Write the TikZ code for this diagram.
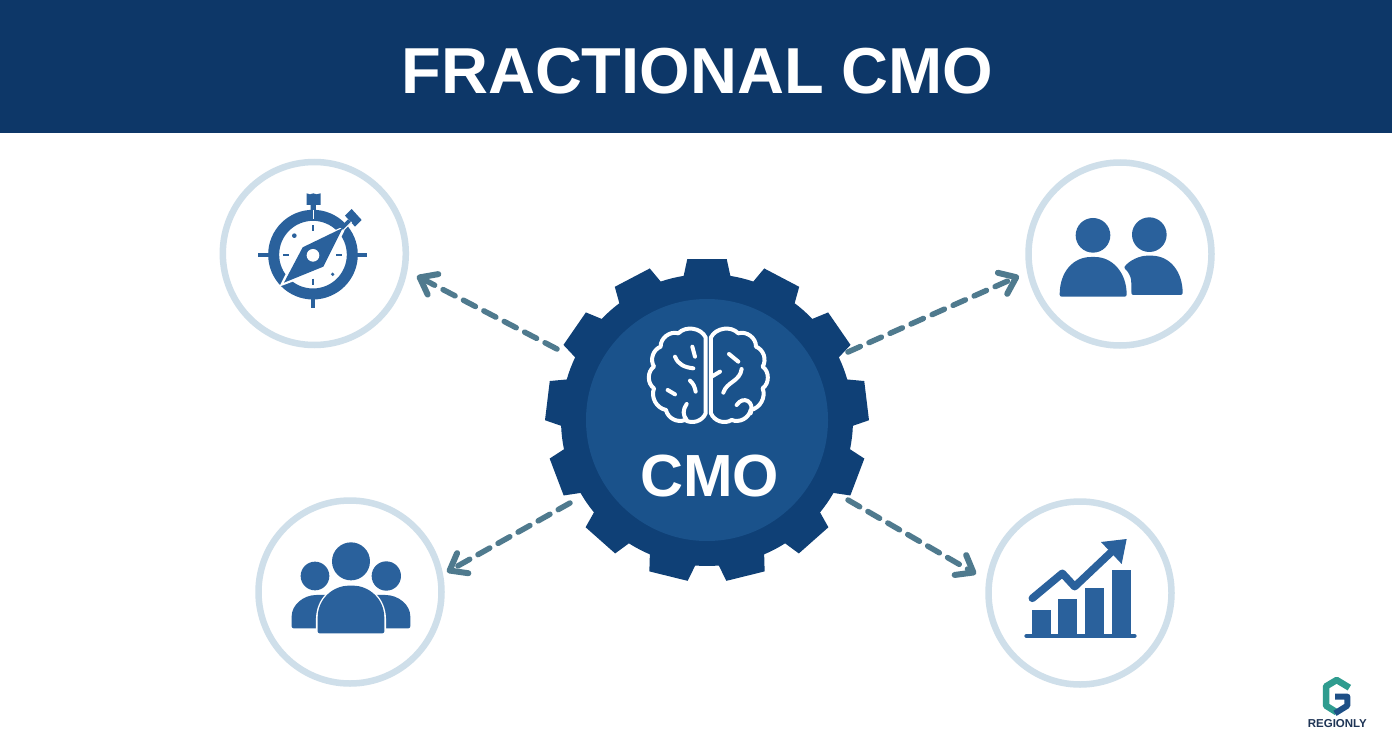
\documentclass[tikz,border=0pt]{standalone}
\usepackage{fontspec}
\setmainfont{Liberation Sans}
\usetikzlibrary{arrows.meta}
\definecolor{headerblue}{HTML}{0D3768}
\definecolor{gearouter}{HTML}{0F4076}
\definecolor{gearinner}{HTML}{1A528B}
\definecolor{iconblue}{HTML}{2A619C}
\definecolor{ringblue}{HTML}{CFDFEA}
\definecolor{arrowgrey}{HTML}{4F7A8E}
\definecolor{logoteal}{HTML}{2F9C8F}
\definecolor{logonavy}{HTML}{1D4F86}
\definecolor{logotext}{HTML}{1F3556}
\tikzset{
  ringnode/.style={circle,draw=ringblue,line width=6.5pt,fill=white,minimum size=183pt,inner sep=0pt},
  titletext/.style={text=white,font=\fontsize{65}{65}\selectfont\bfseries,inner sep=0pt},
  cmotext/.style={text=white,font=\fontsize{59.5}{60}\selectfont\bfseries,inner sep=0pt},
  link/.style={draw=arrowgrey,line width=5.5pt,dash pattern=on 13.5pt off 9.5pt,line cap=round,
    -{Straight Barb[length=15pt,width=23pt,line width=6pt,round,sep=0pt]}},
  brainline/.style={draw=white,line width=4pt,line cap=round,line join=round},
}
\newcommand{\lobe}{%
  \draw[brainline] (527,262) to[bend right=55] (445,250) to[bend right=55] (392,290)
    to[bend right=50] (372,350) to[bend right=55] (372,415) to[bend right=50] (408,480)
    to[bend right=50] (465,510) to[bend right=50] (527,490) -- cycle;}
\begin{document}
\begin{tikzpicture}[x=1pt,y=-1pt]
\useasboundingbox (0,0) rectangle (1392,752);
\fill[white] (0,0) rectangle (1392,752);
\fill[headerblue] (0,0) rectangle (1392,133);
\node[titletext] (title) at (697.5,71) {FRACTIONAL CMO};

% rings
\node[ringnode] (strategy) at (314.3,253.5) {};
\node[ringnode] (partners) at (1120,254) {};
\node[ringnode] (team) at (350,592) {};
\node[ringnode] (growth) at (1080,593) {};

% connectors
\coordinate (gearTL) at (557,349);
\coordinate (gearTR) at (848,352);
\coordinate (gearBL) at (570,503);
\coordinate (gearBR) at (848,500);
\coordinate (tipTL) at (417,276);
\coordinate (tipTR) at (1019,276);
\coordinate (tipBL) at (447,572);
\coordinate (tipBR) at (976,574);
\draw[link] (gearTL) -- (tipTL);
\draw[link] (gearTR) -- (tipTR);
\draw[link] (gearBL) -- (tipBL);
\draw[link] (gearBR) -- (tipBR);

% gear
\begin{scope}[shift={(707,420)}]
\fill[gearouter] (-90-9.2:146)
  \foreach \i in {0,...,12} {
    -- ({-90+\i*360/13-9.2}:146)
    -- ({-90+\i*360/13-7}:162)
    -- ({-90+\i*360/13+7}:162)
    -- ({-90+\i*360/13+9.2}:146)
    arc[start angle={-90+\i*360/13+9.2},end angle={-90+(\i+1)*360/13-9.2},radius=146]
  } -- cycle;
\end{scope}
\node[circle,fill=gearinner,minimum size=242pt,inner sep=0pt] (cmo) at (707,420) {};
\node[cmotext] (cmolabel) at (709.5,476) {CMO};

% brain
\begin{scope}[shift={(530,250)},x=0.3333pt,y=-0.3333pt]
\lobe
\begin{scope}[xshift=1070*0.3333pt,xscale=-1]\lobe\end{scope}
\draw[brainline] (487,290) -- (495,320);
\draw[brainline] (435,320) .. controls (445,345) and (465,352) .. (490,355);
\draw[brainline] (480,392) .. controls (490,400) and (495,412) .. (497,425);
\draw[brainline] (413,420) -- (435,433);
\draw[brainline] (470,462) .. controls (458,480) and (458,495) .. (470,510);
\draw[brainline] (597,312) -- (625,335);
\draw[brainline] (635,357) .. controls (630,395) and (590,395) .. (580,428);
\draw[brainline] (570,365) -- (545,380);
\draw[brainline] (620,465) .. controls (640,435) and (675,455) .. (662,490);
\end{scope}

% compass
\begin{scope}[shift={(210,150)},x=0.3333pt,y=-0.3333pt]
\draw[draw=iconblue,line width=11pt] (309,314) circle[radius=118];
\fill[iconblue] (290,130) -- (300,133) -- (310,130) -- (320,133) -- (332,130) -- (332,165) -- (318,165) -- (318,182) -- (302,182) -- (302,165) -- (290,165) -- cycle;
\draw[white,line width=1.6pt] (310,180) -- (310,206);
\draw[draw=iconblue,line width=4pt] (145,314) -- (182,314);
\draw[draw=iconblue,line width=4pt] (437,314) -- (470,314);
\draw[draw=iconblue,line width=4pt] (309,440) -- (309,474);
\draw[draw=iconblue,line width=2.2pt] (309,226) -- (309,243);
\draw[draw=iconblue,line width=2.2pt] (309,386) -- (309,405);
\draw[draw=iconblue,line width=2.2pt] (220,314) -- (238,314);
\draw[draw=iconblue,line width=2.2pt] (379,314) -- (397,314);
\fill[iconblue] (253,257) circle[radius=7];
\fill[iconblue] (368,373) circle[radius=5.5];
% needle
\fill[white] (208,410) -- (270,288) -- (412,224) -- (347,358) -- cycle;
\fill[iconblue] (222,398) -- (278,292) -- (398,234) -- (340,350) -- cycle;
\fill[iconblue] (309,316) circle[radius=34];
\fill[white] (309,316) circle[radius=19];
% side button
\fill[iconblue] (405,197) -- (425,177) -- (455,210) -- (435,230) -- cycle;
\fill[iconblue] (390,232) -- (414,208) -- (424,218) -- (402,242) -- cycle;
\draw[white,line width=1.2pt] (395,246) -- (425,216);
\end{scope}

% partners
\begin{scope}[shift={(1020,155)},x=0.3333pt,y=-0.3333pt]
\fill[iconblue] (219,241) circle[radius=52];
\fill[iconblue] (388,239) circle[radius=52];
\fill[iconblue,rounded corners=2pt] (334,420) -- (334,380) .. controls (332,365) and (325,350) .. (311,338) .. controls (330,315) and (360,302) .. (388,302) .. controls (450,302) and (488,350) .. (488,420) -- cycle;
\fill[white] (119,425) .. controls (119,350) and (160,305) .. (219,305) .. controls (280,305) and (332,350) .. (334,425) -- cycle;
\fill[iconblue,rounded corners=2pt] (119,425) .. controls (119,350) and (160,306) .. (219,306) .. controls (275,306) and (320,350) .. (320,425) -- cycle;
\end{scope}

% team
\begin{scope}[shift={(250,490)},x=0.3333pt,y=-0.3333pt]
\fill[iconblue] (303,214) circle[radius=57];
\fill[iconblue] (195,258) circle[radius=43];
\fill[iconblue] (409,258) circle[radius=44];
\fill[iconblue,rounded corners=2pt] (125,415) -- (125,385) .. controls (125,345) and (160,315) .. (205,315) -- (260,315) -- (260,415) -- cycle;
\fill[iconblue,rounded corners=2pt] (481,415) -- (481,385) .. controls (481,345) and (446,315) .. (400,315) -- (350,315) -- (350,415) -- cycle;
\draw[white,line width=3.5pt,fill=iconblue] (203,430) -- (203,390) .. controls (203,325) and (250,287) .. (303,287) .. controls (356,287) and (403,325) .. (403,390) -- (403,430) -- cycle;
\fill[iconblue,rounded corners=2pt] (203,430) -- (203,390) .. controls (203,325) and (250,287) .. (303,287) .. controls (356,287) and (403,325) .. (403,390) -- (403,430) -- cycle;
\end{scope}

% growth
\begin{scope}[shift={(980,490)},x=0.3333pt,y=-0.3333pt]
\fill[iconblue] (156,360) rectangle (213,435);
\fill[iconblue] (235,327) rectangle (292,435);
\fill[iconblue] (315,293) rectangle (373,435);
\fill[iconblue] (395,241) rectangle (452,435);
\draw[draw=iconblue,line width=4.6pt,line cap=round] (140,438) -- (463,438);
\draw[draw=iconblue,line width=7.6pt,line join=round,line cap=round] (157,325) -- (247,250) -- (284,290) -- (392,188);
\fill[iconblue] (363,156) -- (440,147) -- (425,222) -- cycle;
\end{scope}

% logo
\begin{scope}[shift={(1290,665)},x=0.3333pt,y=-0.3333pt]
\draw[draw=logoteal,line width=6.5pt,line join=round] (178,68) -- (140,45) -- (108,64) -- (108,122) -- (140,142);
\draw[draw=logonavy,line width=6pt,line join=round] (135,95) -- (172,95) -- (172,122) -- (135,145);
\node[font=\fontsize{11.5}{11.5}\selectfont\bfseries,text=logotext,inner sep=0pt] (logoname) at (142,176) {REGIONLY};
\end{scope}
\end{tikzpicture}
\end{document}
